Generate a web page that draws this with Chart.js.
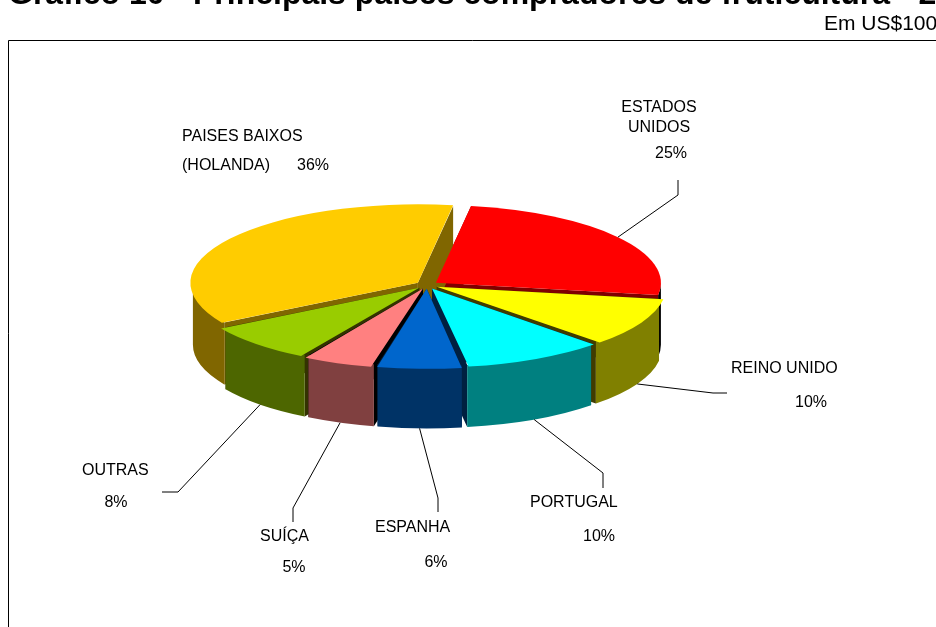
<!DOCTYPE html>
<html>
<head>
<meta charset="utf-8">
<title>Principais países compradores de fruticultura</title>
<script src="https://cdn.jsdelivr.net/npm/chart.js@4"></script>
<style>
  html, body { margin: 0; padding: 0; background: #fff; overflow: hidden; }
  canvas { display: block; }
</style>
</head>
<body>
<canvas id="myChart" width="936" height="627"></canvas>
<script>
const categories = ['ESTADOS UNIDOS', 'REINO UNIDO', 'PORTUGAL', 'ESPANHA', 'SUÍÇA', 'OUTRAS', 'PAISES BAIXOS (HOLANDA)'];
const values = [25, 10, 10, 6, 5, 8, 36];

const topColors = ['#ff0000', '#ffff00', '#00ffff', '#0066cc', '#ff8080', '#99cc00', '#ffcc00'];
const wallColors = ['#000000', '#808000', '#008080', '#003366', '#804040', '#4d6600', '#806600'];
const cutColors = ['#800000', '#403c00', '#002040', '#002040', '#000000', '#333300', '#806600'];

const squash = 0.345;
const depth = 62;
const centerY = 285;

// label text: [text, x, y, align]
const labelTexts = [
  [['ESTADOS', 659, 108, 'center'], ['UNIDOS', 659, 128, 'center'], ['25%', 671, 154, 'center']],
  [['REINO UNIDO', 731, 369, 'left'], ['10%', 811, 403, 'center']],
  [['PORTUGAL', 530, 503, 'left'], ['10%', 599, 537, 'center']],
  [['ESPANHA', 375, 528, 'left'], ['6%', 436, 563, 'center']],
  [['SUÍÇA', 260, 537, 'left'], ['5%', 294, 568, 'center']],
  [['OUTRAS', 82, 471, 'left'], ['8%', 116, 503, 'center']],
  [['PAISES BAIXOS', 182, 137, 'left'], ['(HOLANDA)', 182, 166, 'left'], ['36%', 297, 166, 'left']]
];
// leader line bends after the point on the slice edge
const leaderBends = [
  [[678, 195], [678, 180]],
  [[713, 393], [727, 393]],
  [[603, 473], [603, 488]],
  [[438, 498], [438, 512]],
  [[293, 508], [293, 522]],
  [[178, 492], [162, 492]],
  []
];

// flatten the pie: everything is drawn in a squashed y around centerY
function flatY(y) {
  return centerY + (y - centerY) * squash;
}

function sliceGeometry(arc) {
  const o = arc.options.offset / 4;
  const mid = (arc.startAngle + arc.endAngle) / 2;
  return {
    x: arc.x + Math.cos(mid) * o,
    y: flatY(arc.y + Math.sin(mid) * o),
    r: arc.outerRadius,
    start: arc.startAngle,
    end: arc.endAngle,
    mid: mid
  };
}

const pie3d = {
  id: 'pie3d',
  beforeDraw(chart) {
    const ctx = chart.ctx;
    ctx.save();
    ctx.strokeStyle = '#000';
    ctx.lineWidth = 1;
    ctx.beginPath();
    ctx.moveTo(8.5, 627);
    ctx.lineTo(8.5, 40.5);
    ctx.lineTo(936, 40.5);
    ctx.stroke();
    ctx.restore();
  },
  beforeDatasetsDraw(chart) {
    const ctx = chart.ctx;
    const arcs = chart.getDatasetMeta(0).data;
    const order = arcs.map((a, i) => i).sort((a, b) =>
      Math.sin((arcs[a].startAngle + arcs[a].endAngle) / 2) - Math.sin((arcs[b].startAngle + arcs[b].endAngle) / 2));

    ctx.save();
    order.forEach(i => {
      const g = sliceGeometry(arcs[i]);
      const ry = g.r * squash;

      // cut faces
      ctx.fillStyle = cutColors[i];
      [g.start, g.end].forEach(a => {
        const ex = g.x + Math.cos(a) * g.r;
        const ey = g.y + Math.sin(a) * ry;
        ctx.beginPath();
        ctx.moveTo(g.x, g.y);
        ctx.lineTo(ex, ey);
        ctx.lineTo(ex, ey + depth);
        ctx.lineTo(g.x, g.y + depth);
        ctx.closePath();
        ctx.fill();
      });

      // outer wall, front half only
      const lo = Math.max(g.start, 0);
      const hi = Math.min(g.end, Math.PI);
      if (hi > lo) {
        ctx.fillStyle = wallColors[i];
        ctx.beginPath();
        ctx.ellipse(g.x, g.y, g.r, ry, 0, lo, hi);
        ctx.ellipse(g.x, g.y + depth, g.r, ry, 0, hi, lo, true);
        ctx.closePath();
        ctx.fill();
      }
    });
    ctx.restore();

    // the arcs themselves come from the library, squashed
    ctx.save();
    ctx.translate(0, centerY);
    ctx.scale(1, squash);
    ctx.translate(0, -centerY);
  },
  afterDatasetsDraw(chart) {
    chart.ctx.restore();
  },
  afterDraw(chart) {
    const ctx = chart.ctx;
    const arcs = chart.getDatasetMeta(0).data;
    ctx.save();

    // leader lines
    ctx.strokeStyle = '#000';
    ctx.lineWidth = 1;
    arcs.forEach((arc, i) => {
      if (!leaderBends[i].length) return;
      const g = sliceGeometry(arc);
      const s = Math.sin(g.mid);
      const sx = g.x + Math.cos(g.mid) * g.r;
      const sy = g.y + s * g.r * squash + (s > 0 ? depth : 0);
      ctx.beginPath();
      ctx.moveTo(sx, sy);
      leaderBends[i].forEach(p => ctx.lineTo(p[0], p[1]));
      ctx.stroke();
    });

    // labels
    ctx.fillStyle = '#000';
    ctx.font = '16px "Liberation Sans"';
    ctx.textBaseline = 'middle';
    labelTexts.forEach(lines => lines.forEach(l => {
      ctx.textAlign = l[3];
      ctx.fillText(l[0], l[1], l[2]);
    }));

    // title and unit, cut by the page edges like the original
    ctx.textAlign = 'left';
    ctx.textBaseline = 'alphabetic';
    ctx.font = 'bold 32px "Liberation Sans"';
    ctx.fillText('Gráfico 10 - Principais países compradores de fruticultura - 2', 8, 4);
    ctx.font = '21px "Liberation Sans"';
    ctx.fillText('Em US$100', 824, 30);
    ctx.restore();
  }
};

new Chart(document.getElementById('myChart'), {
  type: 'pie',
  data: {
    labels: categories,
    datasets: [{
      data: values,
      backgroundColor: topColors,
      borderWidth: 0,
      offset: 44,
      radius: 225
    }]
  },
  options: {
    responsive: false,
    animation: false,
    rotation: 9,
    layout: { padding: { left: 0, right: 82, top: 0, bottom: 57 } },
    plugins: { legend: { display: false }, tooltip: { enabled: false }, title: { display: false } }
  },
  plugins: [pie3d]
});
</script>
</body>
</html>
